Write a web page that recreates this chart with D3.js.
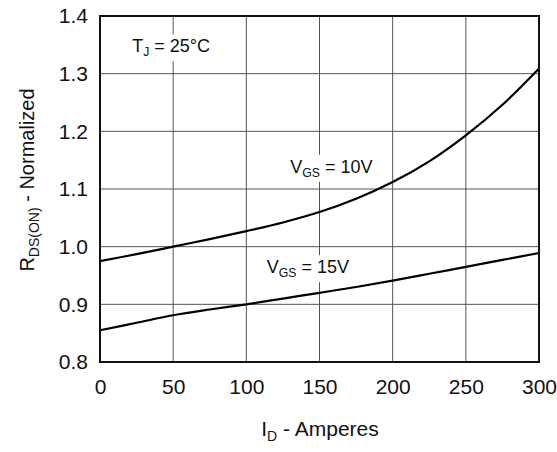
<!DOCTYPE html>
<html>
<head>
	<meta charset="utf-8">
	<title>RDS(ON) vs ID</title>
	<script src="https://d3js.org/d3.v7.min.js"></script>
	<style>
		body { margin: 0; background: #fff; }
		text { font-family: "Liberation Sans", Arial, sans-serif; fill: #111; }
		.grid line { stroke: #555; stroke-width: 1; }
		.curve { fill: none; stroke: #000; stroke-width: 2.2; }
	</style>
</head>
<body>
<svg width="557" height="452"></svg>

<script type="text/javascript">
// drain current (A)
var current = [0, 25, 50, 75, 100, 125, 150, 175, 200, 225, 250, 275, 300];
// normalized on-resistance
var vgs10 = [0.975, 0.987, 1.0, 1.013, 1.027, 1.042, 1.060, 1.083, 1.112, 1.148, 1.193, 1.246, 1.309];
var vgs15 = [0.855, 0.868, 0.881, 0.891, 0.900, 0.910, 0.920, 0.930, 0.941, 0.953, 0.965, 0.977, 0.989];
var xTicks = [0, 50, 100, 150, 200, 250, 300];
var yTicks = [0.8, 0.9, 1.0, 1.1, 1.2, 1.3, 1.4];

var plotL = 100, plotR = 539, plotT = 16, plotB = 362;

var svg = d3.select('svg');

var x = d3.scaleLinear().domain([0, 300]).range([plotL, plotR]);
var y = d3.scaleLinear().domain([0.8, 1.4]).range([plotB, plotT]);

// grid
var grid = svg.append('g').attr('class', 'grid');
grid.selectAll('.v')
	.data(xTicks.slice(1, -1))
	.enter()
	.append('line')
	.attr('x1', function(d) { return x(d); })
	.attr('x2', function(d) { return x(d); })
	.attr('y1', plotT)
	.attr('y2', plotB);
grid.selectAll('.h')
	.data(yTicks.slice(1, -1))
	.enter()
	.append('line')
	.attr('x1', plotL)
	.attr('x2', plotR)
	.attr('y1', function(d) { return y(d); })
	.attr('y2', function(d) { return y(d); });

// axes (labels only)
var xAxis = d3.axisBottom(x).tickValues(xTicks).tickSize(0).tickPadding(17);
var yAxis = d3.axisLeft(y).tickValues(yTicks).tickSize(0).tickPadding(12)
	.tickFormat(d3.format('.1f'));

svg.append('g')
	.attr('transform', 'translate(0,' + plotB + ')')
	.call(xAxis)
	.call(function(g) { g.select('.domain').remove(); })
	.selectAll('text')
	.attr('font-size', 21)
	.attr('fill', '#111');

svg.append('g')
	.attr('transform', 'translate(' + plotL + ',0)')
	.call(yAxis)
	.call(function(g) { g.select('.domain').remove(); })
	.selectAll('text')
	.attr('font-size', 21)
	.attr('fill', '#111');

// in-plot labels with white boxes
function label(tx, ty, main, sub, rest, size) {
	var g = svg.append('g');
	var bg = g.append('rect').attr('fill', '#fff');
	var t = g.append('text')
		.attr('x', tx)
		.attr('y', ty)
		.attr('font-size', size);
	t.append('tspan').text(main);
	t.append('tspan').attr('dy', 4).attr('font-size', size * 0.68).text(sub);
	t.append('tspan').attr('dy', -4).text(rest);
	var b = t.node().getBBox();
	bg.attr('x', b.x - 3).attr('y', b.y - 2)
		.attr('width', b.width + 6).attr('height', b.height + 4);
}

label(x(22), y(1.337), 'T', 'J', ' = 25°C', 18);
label(x(130), y(1.128), 'V', 'GS', ' = 10V', 18);
label(x(114), y(0.954), 'V', 'GS', ' = 15V', 18);

// curves
var line = d3.line()
	.x(function(d, i) { return x(current[i]); })
	.y(function(d) { return y(d); })
	.curve(d3.curveCatmullRom.alpha(0.5));

svg.append('path').attr('class', 'curve').attr('d', line(vgs10));
svg.append('path').attr('class', 'curve').attr('d', line(vgs15));

// frame
svg.append('rect')
	.attr('x', plotL)
	.attr('y', plotT)
	.attr('width', plotR - plotL)
	.attr('height', plotB - plotT)
	.attr('fill', 'none')
	.attr('stroke', '#111')
	.attr('stroke-width', 2);

// axis titles
var xt = svg.append('text')
	.attr('x', 320)
	.attr('y', 436)
	.attr('text-anchor', 'middle')
	.attr('font-size', 21);
xt.append('tspan').text('I');
xt.append('tspan').attr('dy', 5).attr('font-size', 14).text('D');
xt.append('tspan').attr('dy', -5).text(' - Amperes');

var yt = svg.append('text')
	.attr('transform', 'translate(34,180) rotate(-90)')
	.attr('text-anchor', 'middle')
	.attr('font-size', 20);
yt.append('tspan').text('R');
yt.append('tspan').attr('dy', 5).attr('font-size', 14).text('DS(ON)');
yt.append('tspan').attr('dy', -5).text(' - Normalized');
</script>
</body>
</html>
